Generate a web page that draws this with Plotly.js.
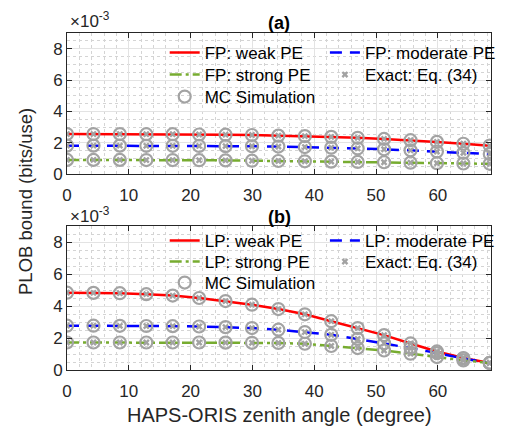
<!DOCTYPE html>
<html>
<head>
<meta charset="utf-8">
<script src="https://cdn.plot.ly/plotly-3.0.1.min.js"></script>
<style>html,body{margin:0;padding:0;background:#fff;}#chart{width:506px;height:430px;}</style>
</head>
<body>
<div id="chart"></div>
<script>
// Zenith angle (degree)
const angle = [0, 4.28, 8.55, 12.83, 17.1, 21.38, 25.65, 29.93, 34.2, 38.48, 42.75, 47.03, 51.3, 55.58, 59.85, 64.13, 68.4];

// PLOB bound values, in units of 1e-3 bits/use
// (a) FP
const fpWeak     = [2.55, 2.55, 2.55, 2.54, 2.54, 2.52, 2.51, 2.49, 2.45, 2.42, 2.37, 2.31, 2.24, 2.16, 2.05, 1.93, 1.81];
const fpModerate = [1.81, 1.81, 1.81, 1.80, 1.80, 1.79, 1.78, 1.77, 1.75, 1.72, 1.68, 1.63, 1.58, 1.51, 1.43, 1.35, 1.27];
const fpStrong   = [0.90, 0.90, 0.90, 0.89, 0.89, 0.88, 0.87, 0.85, 0.83, 0.81, 0.79, 0.77, 0.75, 0.72, 0.69, 0.67, 0.65];
// (b) LP
const lpWeak     = [4.83, 4.82, 4.80, 4.74, 4.65, 4.50, 4.31, 4.08, 3.81, 3.48, 3.05, 2.62, 2.18, 1.66, 1.16, 0.75, 0.44];
const lpModerate = [2.77, 2.77, 2.76, 2.75, 2.74, 2.72, 2.68, 2.62, 2.52, 2.37, 2.20, 1.94, 1.67, 1.37, 1.06, 0.72, 0.44];
const lpStrong   = [1.72, 1.72, 1.72, 1.72, 1.72, 1.72, 1.71, 1.70, 1.69, 1.64, 1.50, 1.37, 1.22, 1.02, 0.81, 0.60, 0.44];

const xTicks = [0, 10, 20, 30, 40, 50, 60];
const yTicks = [0, 2, 4, 6, 8];
const yTickText = ['0', '2', '4', '6', '8'];

const namesA = ['FP: weak PE', 'FP: moderate PE', 'FP: strong PE'];
const namesB = ['LP: weak PE', 'LP: moderate PE', 'LP: strong PE'];
const exactName = 'Exact: Eq. (34)';
const mcName = 'MC Simulation';

const FONT = 'Liberation Sans, Arial, Helvetica, sans-serif';
const W = 506, H = 430;
const M = {l: 67, r: 5, t: 33, b: 60};
const plotH = H - M.t - M.b;
const plotW = W - M.l - M.r;
const py = p => (H - M.b - p) / plotH;   // pixel y -> paper
const px = p => (p - M.l) / plotW;       // pixel x -> paper

const styles = [
  {color: '#ff0000', dash: 'solid'},
  {color: '#0000ff', dash: '12px,8px'},
  {color: '#77ac30', dash: '12px,4px,3px,4px'}
];
const gray = '#a3a3a3';

// legend ids: [weak, moderate, strong, exact, mc]
function panel(vals, names, xa, ya, lg) {
  const tr = [];
  vals.forEach((v, i) => {
    tr.push({x: angle, y: v, type: 'scatter', mode: 'lines', name: names[i],
      xaxis: xa, yaxis: ya, legend: lg[i], showlegend: true,
      line: {color: styles[i].color, width: 2.5, dash: styles[i].dash}});
  });
  vals.forEach((v, i) => {
    tr.push({x: angle, y: v, type: 'scatter', mode: 'markers', name: mcName,
      xaxis: xa, yaxis: ya, legend: lg[4], showlegend: i === 0,
      marker: {symbol: 'circle-open', size: 12, color: gray, line: {width: 2.2, color: gray}}});
  });
  vals.forEach((v, i) => {
    tr.push({x: angle, y: v, type: 'scatter', mode: 'markers', name: exactName,
      xaxis: xa, yaxis: ya, legend: lg[3], showlegend: i === 0,
      marker: {symbol: 'x', size: 6, color: gray, line: {width: 0}}});
  });
  return tr;
}

const data = [].concat(
  panel([fpWeak, fpModerate, fpStrong], namesA, 'x', 'y', ['legend', 'legend2', 'legend3', 'legend4', 'legend5']),
  panel([lpWeak, lpModerate, lpStrong], namesB, 'x2', 'y2', ['legend6', 'legend7', 'legend8', 'legend9', 'legend10'])
);

function xaxis(anchor) {
  return {anchor: anchor, domain: [0, 1], range: [0, 68.6], tickvals: xTicks,
    ticks: 'inside', ticklen: 5, tickcolor: '#262626', mirror: 'ticks',
    showline: true, linecolor: '#262626', linewidth: 1, ticklabelstandoff: 6,
    showgrid: true, gridcolor: '#e3e3e3', gridwidth: 1, zeroline: false,
    tickfont: {family: FONT, size: 17, color: '#262626'},
    minor: {dtick: 2, showgrid: true, gridcolor: '#d4d4d4', griddash: 'dot', gridwidth: 1, ticks: ''}};
}
function yaxis(anchor, dom) {
  return {anchor: anchor, domain: dom, range: [0, 9], tickvals: yTicks, ticktext: yTickText,
    ticks: 'inside', ticklen: 5, tickcolor: '#262626', mirror: 'ticks',
    showline: true, linecolor: '#262626', linewidth: 1,
    showgrid: true, gridcolor: '#e3e3e3', gridwidth: 1, zeroline: false,
    tickfont: {family: FONT, size: 17, color: '#262626'},
    minor: {dtick: 0.5, showgrid: true, gridcolor: '#d4d4d4', griddash: 'dot', gridwidth: 1, ticks: ''}};
}
function legend(xpix, ypix) {
  return {visible: true, x: px(xpix), y: py(ypix), xanchor: 'left', yanchor: 'middle',
    bgcolor: 'rgba(0,0,0,0)', borderwidth: 0, tracegroupgap: 0,
    font: {family: FONT, size: 17, color: '#000'}, itemwidth: 30};
}
const c1 = 167, c2 = 331;
const rowsA = [53, 75, 97];
const rowsB = [241, 262, 283];

const layout = {
  width: W, height: H, margin: M, paper_bgcolor: '#fff', plot_bgcolor: '#fff',
  showlegend: true,
  font: {family: FONT, color: '#262626'},
  xaxis: xaxis('y'), yaxis: yaxis('x', [py(174), 1]),
  xaxis2: xaxis('y2'), yaxis2: yaxis('x2', [0, py(226)]),
  legend: legend(c1, rowsA[0]), legend2: legend(c2, rowsA[0]),
  legend3: legend(c1, rowsA[1]), legend4: legend(c2, rowsA[1]), legend5: legend(c1, rowsA[2]),
  legend6: legend(c1, rowsB[0]), legend7: legend(c2, rowsB[0]),
  legend8: legend(c1, rowsB[1]), legend9: legend(c2, rowsB[1]), legend10: legend(c1, rowsB[2]),
  annotations: [
    {text: '<b>(a)</b>', xref: 'paper', yref: 'paper', x: px(284.5), y: py(23), xanchor: 'center', yanchor: 'middle', showarrow: false, font: {family: FONT, size: 18, color: '#000'}},
    {text: '<b>(b)</b>', xref: 'paper', yref: 'paper', x: px(284.5), y: py(217), xanchor: 'center', yanchor: 'middle', showarrow: false, font: {family: FONT, size: 18, color: '#000'}},
    {text: '×10<sup>-3</sup>', xref: 'paper', yref: 'paper', x: px(68), y: py(20), xanchor: 'left', yanchor: 'middle', showarrow: false, font: {family: FONT, size: 17, color: '#262626'}},
    {text: '×10<sup>-3</sup>', xref: 'paper', yref: 'paper', x: px(68), y: py(215), xanchor: 'left', yanchor: 'middle', showarrow: false, font: {family: FONT, size: 17, color: '#262626'}},
    {text: 'HAPS-ORIS zenith angle (degree)', xref: 'paper', yref: 'paper', x: px(284), y: py(415), xanchor: 'center', yanchor: 'middle', showarrow: false, font: {family: FONT, size: 20, color: '#262626'}},
    {text: 'PLOB bound (bits/use)', xref: 'paper', yref: 'paper', x: px(24), y: py(201), xanchor: 'center', yanchor: 'middle', textangle: -90, showarrow: false, font: {family: FONT, size: 18.5, color: '#262626'}}
  ]
};

Plotly.newPlot('chart', data, layout, {displayModeBar: false, staticPlot: true});
</script>
</body>
</html>
